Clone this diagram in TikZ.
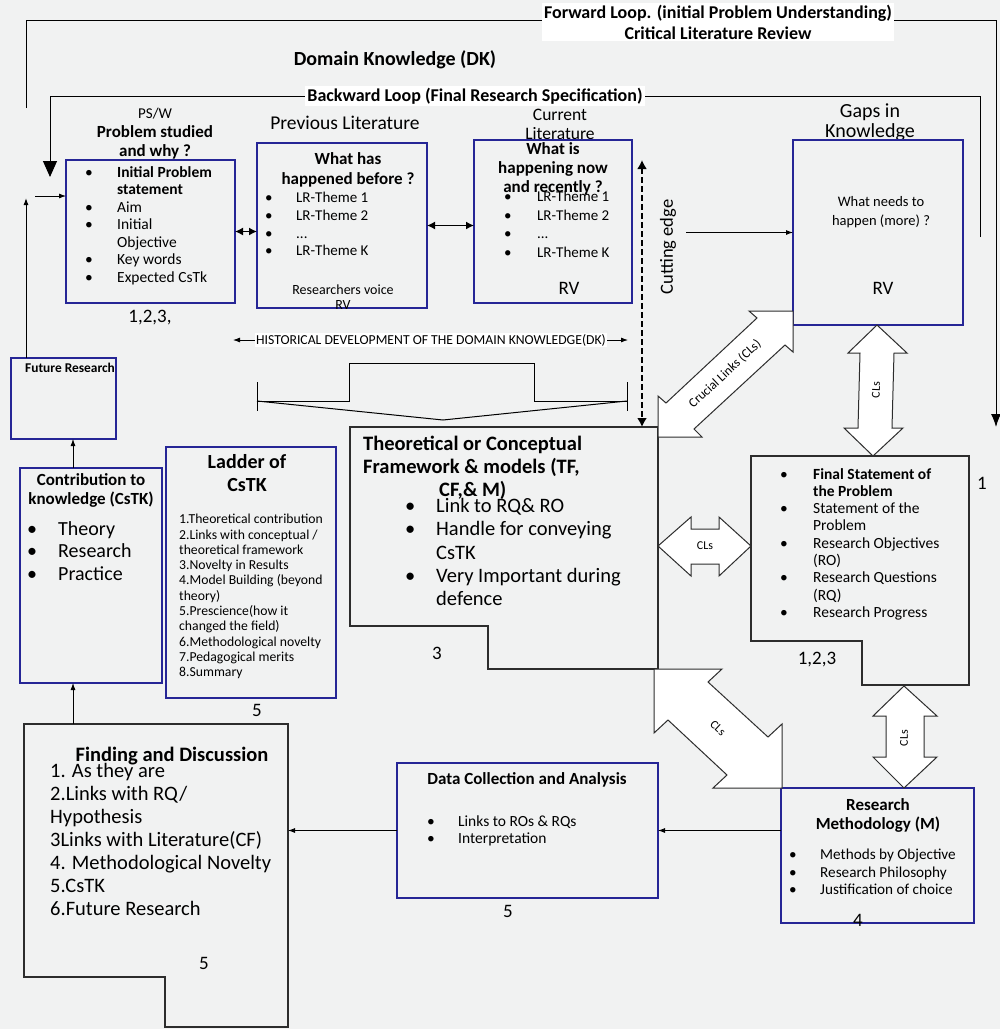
\documentclass[tikz,border=0pt]{standalone}
\usepackage{fontspec}
\setmainfont{Carlito}
\usetikzlibrary{arrows,arrows.meta,shapes,positioning,calc}
\definecolor{paper}{RGB}{241,242,242}
\definecolor{boxblue}{RGB}{38,38,150}
\definecolor{edgegray}{RGB}{45,45,45}
\newcommand{\bull}[1]{\makebox[#1][l]{\textbullet}}
\newcommand{\skp}[1]{\hspace*{#1}}
\newcommand{\fsz}[2]{\fontsize{#1}{#2}\selectfont}
\tikzstyle{bluebox}=[draw=boxblue, line width=1.1pt, inner sep=0pt, outer sep=0pt, anchor=north west]
\tikzstyle{plainbox}=[inner sep=0pt, outer sep=0pt, anchor=north west]
\tikzstyle{stepshape}=[draw=edgegray, line width=1.1pt, line join=miter]
\tikzstyle{txt}=[inner sep=0pt, align=left, anchor=north west]
\tikzstyle{ctxt}=[inner sep=0pt, align=center]
\tikzstyle{conn}=[draw, line width=0.8pt, -{Latex[length=7pt,width=5pt]}]
\tikzstyle{dconn}=[draw, line width=1.4pt, {Latex[length=8pt,width=8pt]}-{Latex[length=8pt,width=8pt]}]
\tikzstyle{loopline}=[draw, line width=1pt]
\tikzstyle{cls}=[draw=edgegray, fill=white, line width=1pt, line join=miter]
\tikzstyle{clslabel}=[inner sep=0pt, font=\fsz{12}{14}]
\tikzstyle{numlabel}=[inner sep=0pt, font=\fsz{19}{21}]
\begin{document}
\begin{tikzpicture}[x=1pt,y=-1pt]
    % paper
    \fill[paper] (0,0) rectangle (1000,1029);
    \useasboundingbox (0,0) rectangle (1000,1029);

    % Forward loop and backward loop
    \coordinate (fwdA) at (26,108);
    \coordinate (fwdB) at (996,20);
    \coordinate (fwdC) at (996,427);
    \draw[loopline, -{Latex[length=13pt,width=10pt]}] (fwdA) |- (fwdB) -- (fwdC);
    \coordinate (bwdA) at (980,237);
    \coordinate (bwdB) at (50,96);
    \coordinate (bwdC) at (50,177);
    \draw[loopline, -{Triangle[length=16pt,width=14pt]}] (bwdA) |- (bwdB) -- (bwdC);
    \node[ctxt, fill=white, inner sep=2pt, font=\bfseries\fsz{18}{21}] (fwdlbl) at (718,22)
        {Forward Loop. (initial Problem Understanding)\\Critical Literature Review};
    \node[ctxt, font=\bfseries\fsz{20}{22}] (dk) at (395,60) {Domain Knowledge (DK)};
    \node[ctxt, fill=white, inner sep=2pt, font=\bfseries\fsz{18}{20}] (bwdlbl) at (475,96)
        {Backward Loop (Final Research Specification)};

    % PS/W box
    \node[ctxt, font=\fsz{17}{19}] (pstitle) at (155,134) {{\fsz{15}{19}PS/W}\\\textbf{Problem studied}\\\textbf{and why ?}};
    \node[bluebox, minimum width=169pt, minimum height=143pt] (ps) at (66,160) {};
    \node[txt, font=\fsz{15.5}{17.5}] (pslist) at (85,166) {\bull{32pt}\textbf{Initial Problem}\\\skp{32pt}\textbf{statement}\\\bull{32pt}Aim\\\bull{32pt}Initial\\\skp{32pt}Objective\\\bull{32pt}Key words\\\bull{32pt}Expected CsTk};
    \node[numlabel] (psnum) at (150,318) {1,2,3,};

    % previous literature
    \node[ctxt, font=\fsz{19.5}{21}] (lrtitle) at (345,123) {Previous Literature};
    \node[bluebox, minimum width=170pt, minimum height=165pt] (lr) at (257,143) {};
    \node[ctxt, font=\bfseries\fsz{17}{20}] (lrhead) at (348,170) {What has\\happened before ?};
    \node[txt, font=\fsz{15}{17.7}] (lrlist) at (265,192) {\bull{31pt}LR-Theme 1\\\bull{31pt}LR-Theme 2\\\bull{31pt}...\\\bull{31pt}LR-Theme K};
    \node[ctxt, font=\fsz{14}{15}] (lrrv) at (343,297) {Researchers voice\\RV};

    % current literature
    \node[ctxt, font=\fsz{17.5}{19}] (cltitle) at (560,124) {Current\\Literature};
    \node[bluebox, minimum width=158pt, minimum height=163pt] (cl) at (474,140) {};
    \node[ctxt, font=\bfseries\fsz{17}{19}] (clhead) at (553,169) {What is\\happening now\\and recently ?};
    \node[txt, font=\fsz{15}{18.5}] (cllist) at (504,191) {\bull{33pt}LR-Theme 1\\\bull{33pt}LR-Theme 2\\\bull{33pt}...\\\bull{33pt}LR-Theme K};
    \node[ctxt, font=\fsz{19}{20}] (clrv) at (569,288) {RV};

    % gaps in knowledge
    \node[ctxt, font=\fsz{20}{20}] (gapstitle) at (870,122) {Gaps in\\Knowledge};
    \node[bluebox, minimum width=170pt, minimum height=185pt] (gaps) at (793,140) {};
    \node[ctxt, font=\fsz{14.5}{19}] (gapstext) at (881,212) {What needs to\\happen (more) ?};
    \node[ctxt, font=\fsz{19}{20}] (gapsrv) at (883,288) {RV};

    % cutting edge
    \node[ctxt, font=\fsz{18.5}{20}, rotate=90] (cutlbl) at (668,247) {Cutting edge};
    \path (cutlbl.south) ++(10,0) coordinate (cutOut);
    \draw[conn] (cutOut |- gaps.west) -- (gaps.west);

    % history of the domain knowledge
    \node[ctxt, fill=white, inner sep=1pt, font=\fsz{13.7}{15}] (hist) at (431,340) {HISTORICAL DEVELOPMENT OF THE DOMAIN KNOWLEDGE(DK)};
    \coordinate (histL) at (233,340);
    \coordinate (histR) at (628,340);
    \draw[conn] (hist.west) -- (histL);
    \draw[conn] (hist.east) -- (histR);
    \draw[line width=1pt] (257,382) -- (257,411);
    \draw[line width=1pt] (627,382) -- (627,411);
    \draw[line width=1pt] (257,401) -- (349,401) -- (349,363) -- (534,363) -- (534,401) -- (627,401);
    \draw[line width=1pt] (257,401) -- (443,420) -- (627,401);

    % theoretical / conceptual framework
    \node[plainbox, minimum width=308pt, minimum height=199pt] (tf) at (350,427) {};
    \draw[stepshape] (tf.north west) -- (tf.north east) -- (658,669) -- (488,669) -- (488,626) -- (tf.south west) -- cycle;
    \node[txt, font=\bfseries\fsz{20.5}{23}] (tfhead) at (363,436) {Theoretical or Conceptual\\Framework \& models (TF,\\\skp{76pt}CF,\& M)};
    \node[txt, font=\fsz{20.5}{23.3}] (tflist) at (405,498) {\bull{31pt}Link to RQ\& RO\\\bull{31pt}Handle for conveying\\\skp{31pt}CsTK\\\bull{31pt}Very Important during\\\skp{31pt}defence};
    \node[numlabel] (tfnum) at (437,653) {3};

    % cutting edge line
    \coordinate (cutTop) at (642,160);
    \draw[line width=2.8pt, dash pattern=on 6pt off 3pt, {Latex[length=9pt,width=10pt]}-{Latex[length=9pt,width=10pt]}] (cutTop) -- (cutTop |- tf.north);

    % links between the literature boxes
    \draw[dconn] (ps.east) -- (ps.east -| lr.west);
    \draw[dconn] (lr.east) -- (lr.east -| cl.west);
    \coordinate (inTail) at (35,196);
    \draw[conn] (inTail) -- (inTail -| ps.west);

    % future research and contribution
    \node[bluebox, minimum width=105pt, minimum height=81pt] (future) at (11,358) {};
    \node[txt, font=\bfseries\fsz{13.4}{15}] (futuretext) at (25,363) {Future Research};
    \coordinate (upTip) at (26,198);
    \draw[loopline, -{Latex[length=7pt,width=5pt]}] (upTip |- future.north) -- (upTip);
    \node[bluebox, minimum width=142pt, minimum height=215pt] (cstk) at (20,468) {};
    \node[ctxt, font=\bfseries\fsz{17}{19}] (cstkhead) at (91,490) {Contribution to\\knowledge (CsTK)};
    \node[txt, font=\fsz{20}{22.5}] (cstklist) at (27,521) {\bull{31pt}Theory\\\bull{31pt}Research\\\bull{31pt}Practice};

    % ladder of CsTK
    \node[bluebox, minimum width=170pt, minimum height=251pt] (ladder) at (166,447) {};
    \node[ctxt, font=\bfseries\fsz{20}{23}] (ladderhead) at (247,473) {Ladder of\\CsTK};
    \node[txt, font=\fsz{13.7}{15.3}] (ladderlist) at (179,514) {1.Theoretical contribution\\2.Links with conceptual /\\theoretical framework\\3.Novelty in Results\\4.Model Building (beyond\\theory)\\5.Prescience(how it\\changed the field)\\6.Methodological novelty\\7.Pedagogical merits\\8.Summary};
    \node[numlabel] (laddernum) at (257,710) {5};

    % final statement of the problem
    \node[plainbox, minimum width=218pt, minimum height=185pt] (fin) at (751,456) {};
    \draw[stepshape] (fin.north west) -- (fin.north east) -- (969,685) -- (862,685) -- (862,641) -- (fin.south west) -- cycle;
    \node[txt, font=\fsz{15.5}{17.3}] (finlist) at (780,468) {\bull{33pt}\textbf{Final Statement of}\\\skp{33pt}\textbf{the Problem}\\\bull{33pt}Statement of the\\\skp{33pt}Problem\\\bull{33pt}Research Objectives\\\skp{33pt}(RO)\\\bull{33pt}Research Questions\\\skp{33pt}(RQ)\\\bull{33pt}Research Progress};
    \node[numlabel] (finone) at (982,483) {1};
    \node[numlabel] (finnum) at (817,660) {1,2,3};

    % research methodology
    \node[bluebox, minimum width=193pt, minimum height=135pt] (rm) at (781,788) {};
    \node[ctxt, font=\bfseries\fsz{17}{19}] (rmhead) at (878,815) {Research\\Methodology (M)};
    \node[txt, font=\fsz{15.2}{17.5}] (rmlist) at (789,849) {\bull{31pt}Methods by Objective\\\bull{31pt}Research Philosophy\\\bull{31pt}Justification of choice};
    \node[numlabel] (rmnum) at (858,920) {4};

    % data collection
    \node[bluebox, minimum width=261pt, minimum height=135pt] (data) at (397,763) {};
    \node[ctxt, font=\bfseries\fsz{17}{19}] (datahead) at (527,780) {Data Collection and Analysis};
    \node[txt, font=\fsz{15.5}{17}] (datalist) at (427,816) {\bull{31pt}Links to ROs \& RQs\\\bull{31pt}Interpretation};
    \node[numlabel] (datanum) at (508,911) {5};

    % finding and discussion
    \node[plainbox, minimum width=264pt, minimum height=253pt] (fd) at (24,724) {};
    \draw[stepshape] (fd.north west) -- (fd.north east) -- (288,1027) -- (165,1027) -- (165,977) -- (fd.south west) -- cycle;
    \node[ctxt, font=\bfseries\fsz{20.5}{22}] (fdhead) at (172,756) {Finding and Discussion};
    \node[txt, font=\fsz{20.5}{23}] (fdlist) at (50,763) {1. As they are\\2.Links with RQ/\\Hypothesis\\3Links with Literature(CF)\\4. Methodological Novelty\\5.CsTK\\6.Future Research};
    \node[numlabel] (fdnum) at (204,963) {5};

    % plain connectors
    \coordinate (col) at (73,0);
    \draw[conn] (col |- fd.north) -- (col |- cstk.south);
    \draw[conn] (col |- cstk.north) -- (col |- future.south);
    \draw[conn] (data.east -| rm.west) -- (data.east);
    \draw[conn] (data.west) -- (data.west -| fd.east);

    % crucial links
    \draw[cls] (793,311) -- (749,311) -- (757,318) -- (666,403) -- (658,396) -- (658,437) -- (702,437) -- (694,429) -- (785,345) -- (793,352) -- cycle;
    \node[clslabel, font=\fsz{13}{14}, rotate=43] (clsgap) at (725,374) {Crucial Links (CLs)};
    \draw[cls] (877,325) -- (907,353) -- (894,353) -- (892,428) -- (903,428) -- (873,456) -- (844,428) -- (858,428) -- (860,353) -- (848,353) -- cycle;
    \node[clslabel, rotate=88] (clsfin) at (876,390) {CLs};
    \draw[cls] (658,546) -- (691,517) -- (691,529) -- (719,529) -- (719,517) -- (751,546) -- (719,576) -- (719,564) -- (691,564) -- (691,576) -- cycle;
    \node[clslabel] (clstf) at (705,546) {CLs};
    \draw[cls] (654,669) -- (722,669) -- (708,682) -- (768,737) -- (782,724) -- (782,788) -- (713,788) -- (727,775) -- (668,720) -- (654,733) -- cycle;
    \node[clslabel, rotate=-43] (clsdiag) at (718,728) {CLs};
    \draw[cls] (904,686) -- (937,716) -- (924,716) -- (924,757) -- (937,757) -- (904,788) -- (873,757) -- (886,757) -- (886,716) -- (873,716) -- cycle;
    \node[clslabel, rotate=90] (clsrm) at (904,738) {CLs};
\end{tikzpicture}
\end{document}
